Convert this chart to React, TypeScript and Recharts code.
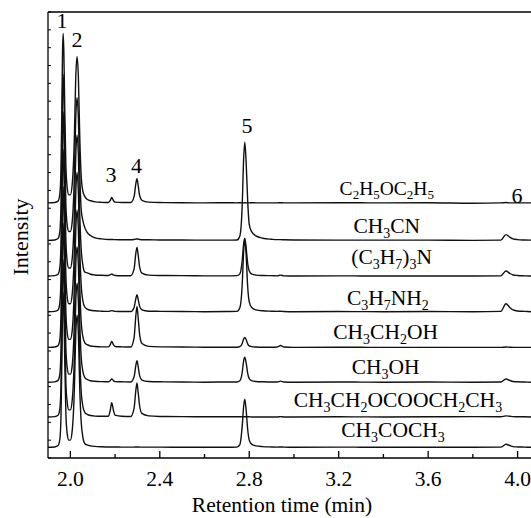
import React from 'react';
import { LineChart, Line, XAxis, YAxis, ReferenceLine, ReferenceDot } from 'recharts';

const FONT = "'Liberation Serif', 'Times New Roman', serif";

// retention time grid (min)
const times = [
  1.9, 1.93, 1.945, 1.953, 1.958, 1.962, 1.965, 1.968, 1.971, 1.975, 1.98, 1.986,
  1.993, 2.0, 2.008, 2.018, 2.024, 2.03, 2.036, 2.042, 2.048, 2.056, 2.065, 2.075,
  2.09, 2.11, 2.14, 2.17, 2.178, 2.185, 2.193, 2.2, 2.23, 2.27, 2.285, 2.293,
  2.298, 2.303, 2.31, 2.32, 2.35, 2.4, 2.5, 2.6, 2.7, 2.745, 2.758, 2.768,
  2.775, 2.78, 2.786, 2.793, 2.8, 2.81, 2.83, 2.86, 2.9, 2.925, 2.94, 2.955,
  3.0, 3.2, 3.4, 3.6, 3.8, 3.925, 3.948, 3.965, 3.98, 4.0, 4.03, 4.06,
];

const compounds = [
  'C2H5OC2H5', 'CH3CN', '(C3H7)3N', 'C3H7NH2', 'CH3CH2OH', 'CH3OH', 'CH3CH2OCOOCH2CH3', 'CH3COCH3',
];

// vertical offsets of each chromatogram
const baselines = [143, 122, 102, 82, 62, 42.5, 23, 6];

const sigEther = [
  0, 0.2, 1, 5, 19, 52, 85, 95, 84, 52, 21, 8.5,
  4.5, 4.5, 10, 37, 70, 82, 70, 37, 16, 6.5, 3.5, 2,
  1.2, 0.6, 0.3, 0.2, 1.2, 3, 1.2, 0.4, 0.2, 0.2, 3.5, 11,
  13.5, 10, 4, 1.4, 0.4, 0.2, 0.1, 0, 0.1, 0, 0.1, 0,
  0, 0.1, 0, 0, 0, 0.1, 0, 0, 0, 0, 0.1, 0,
  0, 0.1, 0, 0.1, -0.2, 0, 0.2, 0, 0, 0, 0, 0,
];
const sigAcetonitrile = [
  0, 0.2, 1, 5, 19, 51, 84, 93, 82, 51, 20, 8.5,
  5, 5, 10, 36, 68, 80, 68, 38, 18, 11, 7, 4.5,
  2.7, 1.4, 0.8, 0.5, 0.5, 0.5, 0.4, 0.4, 0.3, 0.3, 0.5, 0.7,
  0.8, 0.7, 0.5, 0.3, 0.3, 0.2, 0.2, 0.1, 0.1, 0.2, 2.5, 18,
  46, 55, 44, 22, 9, 5, 2.5, 1.2, 0.6, 0.4, 0.4, 0.3,
  0.2, 0.1, 0.1, 0.1, 0, 0.1, 3.2, 1.8, 0.8, 0.4, 0.2, 0.1,
];
const sigTripropylamine = [
  0, 0.2, 1, 5, 18, 50, 83, 92, 81, 50, 20, 8,
  4.5, 4.5, 9.5, 35, 67, 79, 67, 35, 16, 6, 2.2, 1.8,
  1, 0.6, 0.4, 0.3, 0.6, 1.1, 0.6, 0.3, 0.2, 0.2, 4, 13,
  16, 12, 5, 1.6, 0.5, 0.3, 0.2, 0.1, 0.1, 0.2, 1.2, 8,
  18, 21, 16, 7, 2.8, 1.2, 0.5, 0.3, 0.2, 0.1, 0.5, 0.1,
  0, 0.1, 0, 0, 0, 0.1, 2.8, 1.5, 0.6, 0.3, 0.1, 0,
];
const sigPropylamine = [
  0, 0.2, 1, 5, 18, 50, 82, 91, 80, 50, 20, 8,
  4.5, 4.5, 9.5, 35, 66, 78, 66, 35, 16, 6, 2.5, 1.5,
  0.8, 0.5, 0.3, 0.2, 0.4, 0.6, 0.4, 0.2, 0.1, 0.1, 2.4, 7.5,
  9.5, 7, 3, 1, 0.3, 0.2, 0.1, 0, 0.1, 0.2, 2.2, 14,
  34, 41, 32, 14, 5.5, 2.5, 1, 0.5, 0.3, 0.2, 0.3, 0.1,
  0, 0.1, 0, 0.1, 0, 0.2, 4.5, 2.4, 1, 0.4, 0.2, 0,
];
const sigEthanol = [
  0, 0.2, 1, 4.5, 18, 49, 81, 90, 79, 49, 20, 8,
  4.5, 4.5, 9, 35, 65, 77, 65, 35, 15, 6, 2.5, 1.5,
  0.8, 0.5, 0.3, 0.3, 1.4, 3.4, 1.4, 0.5, 0.3, 0.2, 5.5, 18,
  23, 17, 7, 2.2, 0.6, 0.3, 0.2, 0.1, 0.1, 0.1, 0.4, 2,
  4.8, 5.6, 4.4, 2, 0.8, 0.4, 0.2, 0.1, 0.1, 0.2, 1.1, 0.2,
  0, 0.1, 0, 0, 0, 0, 0.2, 0.1, 0, 0, 0, 0,
];
const sigMethanol = [
  0, 0.2, 1, 4.5, 18, 49, 80, 89, 78, 49, 19, 8,
  4.5, 4.5, 9, 34, 65, 76, 65, 34, 15, 6, 2.5, 1.5,
  0.8, 0.5, 0.3, 0.2, 0.8, 1.8, 0.8, 0.3, 0.2, 0.1, 3, 9.5,
  12, 9, 3.5, 1.2, 0.4, 0.2, 0.1, 0, 0.1, 0.1, 0.8, 5,
  12, 14, 11, 5, 2, 0.9, 0.4, 0.2, 0.1, 0.1, 0.6, 0.1,
  0, 0.1, 0, 0.1, 0, 0.1, 1.8, 1, 0.4, 0.2, 0.1, 0,
];
const sigCarbonate = [
  0, 0.2, 1, 4.5, 17, 48, 79, 88, 77, 48, 19, 8,
  4, 4, 9, 34, 64, 75, 64, 34, 15, 6, 2.5, 1.5,
  0.8, 0.5, 0.4, 0.4, 3.5, 8, 3.5, 1, 0.4, 0.3, 5, 15,
  19, 14, 6, 2, 0.6, 0.3, 0.2, 0.1, 0.1, 0.1, 0.1, 0.1,
  0.1, 0.1, 0.1, 0.1, 0.1, 0, 0, 0, 0, 0, 0.2, 0,
  0, 0.1, 0, 0.1, 0.2, 0.1, 0.6, 0.4, 0.2, 0.1, 0.1, 0,
];
const sigAcetone = [
  0, 0.2, 1, 4.5, 17, 48, 78, 87, 76, 48, 19, 7.5,
  4, 4, 9, 33, 63, 74, 63, 33, 15, 5.5, 2, 1.3,
  0.8, 0.5, 0.3, 0.2, 0.2, 0.2, 0.2, 0.2, 0.1, 0.1, 0.1, 0.2,
  0.2, 0.2, 0.1, 0.1, 0.1, 0.1, 0, 0, 0, 0.1, 1.5, 11,
  23, 27, 21, 10, 4, 1.8, 0.8, 0.4, 0.2, 0.1, 0.2, 0.1,
  0, 0.1, 0, 0, 0, 0.1, 1.7, 1, 0.4, 0.2, 0.1, 0,
];

const signals = [
  sigEther, sigAcetonitrile, sigTripropylamine, sigPropylamine,
  sigEthanol, sigMethanol, sigCarbonate, sigAcetone,
];

const xTicks = [2.0, 2.2, 2.4, 2.6, 2.8, 3.0, 3.2, 3.4, 3.6, 3.8, 4.0];
const yTicks = [0, 10, 20, 30, 40, 50, 60, 70, 80, 90, 100, 110, 120, 130, 140, 150, 160, 170, 180, 190, 200, 210, 220, 230, 240, 250];

const peakNumbers = ['1', '2', '3', '4', '5', '6'];
const peakNumberPos: [number, number][] = [
  [1.9626, 241], [2.03, 230.4], [2.182, 154.7], [2.296, 159.8], [2.79, 182.2], [3.997, 143],
];
const compoundLabelPos: [number, number][] = [
  [3.415, 151.3], [3.415, 130], [3.437, 112.7], [3.42, 89.7],
  [3.41, 70.6], [3.41, 51], [3.465, 32.5], [3.443, 15.7],
];

const data = times.map((t, i) => {
  const row: Record<string, number> = { t };
  signals.forEach((s, k) => {
    row['s' + k] = baselines[k] + s[i];
  });
  return row;
});

const XTick = (props: any) => {
  const { x, y, payload } = props;
  const v = payload.value as number;
  const major = Math.round(v * 10) % 4 === 0;
  return (
    <g>
      <line x1={x} x2={x} y1={y} y2={y - (major ? 7 : 4)} stroke="#000" strokeWidth={1.3} />
      {major && (
        <text x={x} y={y + 28} textAnchor="middle" fontFamily={FONT} fontSize={21.5} fill="#000">
          {v.toFixed(1)}
        </text>
      )}
    </g>
  );
};

const YTick = (props: any) => {
  const { x, y } = props;
  return <line x1={x} x2={x + 3} y1={y} y2={y} stroke="#000" strokeWidth={1} />;
};

const formula = (cx: number, cy: number, text: string, size: number, sub: number) => {
  const parts = text.match(/\d+|[^\d]+/g) || [];
  const d = size * 0.22;
  let down = false;
  return (
    <text x={cx} y={cy + size * 0.33} textAnchor="middle" fontFamily={FONT} fontSize={size} fill="#000">
      {parts.map((p, i) => {
        const isNum = /^\d+$/.test(p);
        let dy = 0;
        if (isNum && !down) { dy = d; down = true; }
        else if (!isNum && down) { dy = -d; down = false; }
        return (
          <tspan key={i} dy={dy} fontSize={isNum ? sub : size}>{p}</tspan>
        );
      })}
    </text>
  );
};

export default function App() {
  return (
    <div style={{ position: 'absolute', left: 0, top: 0, width: 531, height: 518, background: '#fff' }}>
      <LineChart width={531} height={518} data={data} margin={{ top: 12, right: 0, bottom: 0, left: 0 }}>
        <XAxis
          dataKey="t"
          type="number"
          domain={[1.9, 4.06]}
          ticks={xTicks}
          interval={0}
          allowDataOverflow
          height={60}
          tickSize={0}
          tickMargin={0}
          tickLine={false}
          tick={<XTick />}
          axisLine={{ stroke: '#000', strokeWidth: 1.3 }}
          label={{
            content: (p: any) => {
              const vb = p.viewBox || { x: 48, y: 458 };
              return (
                <text x={vb.x + 234} y={vb.y + 54} textAnchor="middle" fontFamily={FONT} fontSize={21.5} fill="#000">
                  Retention time (min)
                </text>
              );
            },
          }}
        />
        <YAxis
          type="number"
          domain={[0, 250]}
          ticks={yTicks}
          interval={0}
          width={48}
          tickSize={0}
          tickMargin={0}
          tickLine={false}
          tick={<YTick />}
          axisLine={{ stroke: '#000', strokeWidth: 1.3 }}
          label={{
            content: (p: any) => {
              const vb = p.viewBox || { x: 0, y: 12, height: 446 };
              const cx = vb.x + 28;
              const cy = vb.y + vb.height / 2 + 2;
              return (
                <text x={cx} y={cy} transform={`rotate(-90, ${cx}, ${cy})`} textAnchor="middle" fontFamily={FONT} fontSize={22} fill="#000">
                  Intensity
                </text>
              );
            },
          }}
        />
        <ReferenceLine y={250} stroke="#000" strokeWidth={1.3} />
        {signals.map((_, k) => (
          <Line
            key={k}
            dataKey={'s' + k}
            type="monotone"
            stroke="#111"
            strokeWidth={1.4}
            dot={false}
            activeDot={false}
            isAnimationActive={false}
          />
        ))}
        {peakNumbers.map((n, i) => (
          <ReferenceDot
            key={'p' + i}
            x={peakNumberPos[i][0]}
            y={peakNumberPos[i][1]}
            r={0}
            shape={(p: any) => (
              <text x={p.cx} y={p.cy} textAnchor="middle" fontFamily={FONT} fontSize={22} fill="#000">{n}</text>
            )}
          />
        ))}
        {compounds.map((c, i) => (
          <ReferenceDot
            key={'c' + i}
            x={compoundLabelPos[i][0]}
            y={compoundLabelPos[i][1]}
            r={0}
            shape={(p: any) => formula(p.cx, p.cy, c, i === 0 ? 19.5 : 21.5, i === 0 ? 13 : 14)}
          />
        ))}
      </LineChart>
    </div>
  );
}
